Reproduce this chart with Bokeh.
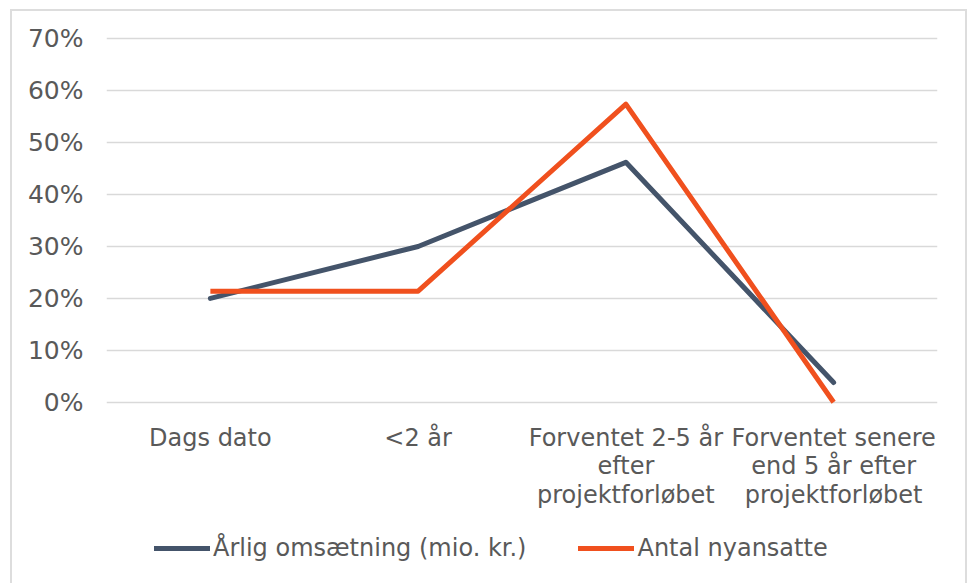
from bokeh.plotting import figure
from bokeh.layouts import column
from bokeh.models import (FactorRange, Range1d, FixedTicker, NumeralTickFormatter,
                          Legend, LegendItem)
from bokeh.embed import file_html
from bokeh.resources import INLINE

categories = ["Dags dato", "<2 år", "Forventet 2-5 år\nefter\nprojektforløbet",
              "Forventet senere\nend 5 år efter\nprojektforløbet"]
omsaetning = [0.20, 0.30, 0.462, 0.038]
nyansatte = [0.214, 0.214, 0.574, 0.0]
series_names = ["Årlig omsætning (mio. kr.)", "Antal nyansatte"]
series_colors = ["#44546A", "#F0501E"]
y_ticks = [0.0, 0.1, 0.2, 0.3, 0.4, 0.5, 0.6, 0.7]

FONT = "DejaVu Sans"
TXT = "#595959"

p = figure(width=953, height=509, output_backend="svg", toolbar_location=None,
           x_range=FactorRange(*categories, range_padding=0),
           y_range=Range1d(-0.012, 0.712))
p.min_border_left = 94
p.min_border_right = 28
p.min_border_top = 21
p.min_border_bottom = 112
p.outline_line_color = None
p.background_fill_color = "white"
p.border_fill_color = "white"

p.line(categories, omsaetning, line_color=series_colors[0], line_width=5,
       line_join="round", line_cap="round")
p.line(categories, nyansatte, line_color=series_colors[1], line_width=5,
       line_join="round", line_cap="butt")

p.yaxis.ticker = FixedTicker(ticks=y_ticks)
p.yaxis.formatter = NumeralTickFormatter(format="0%")
p.yaxis.axis_line_color = None
p.yaxis.major_tick_line_color = None
p.yaxis.minor_tick_line_color = None
p.yaxis.major_label_standoff = 17
p.yaxis.major_label_text_font = FONT
p.yaxis.major_label_text_font_size = "25px"
p.yaxis.major_label_text_color = TXT

p.xaxis.axis_line_color = None
p.xaxis.major_tick_line_color = None
p.xaxis.major_label_standoff = 9
p.xaxis.major_label_text_font = FONT
p.xaxis.major_label_text_font_size = "24px"
p.xaxis.major_label_text_color = TXT
p.xaxis.major_label_text_line_height = 1.03

p.xgrid.grid_line_color = None
p.ygrid.grid_line_color = "#D9D9D9"
p.ygrid.grid_line_width = 1.5

# legend strip below the chart (proxy lines lie outside its visible range)
p2 = figure(width=953, height=63, output_backend="svg", toolbar_location=None,
            x_range=Range1d(0, 1), y_range=Range1d(0, 1))
p2.min_border_left = 0
p2.min_border_right = 0
p2.min_border_top = 0
p2.min_border_bottom = 0
p2.axis.visible = False
p2.grid.visible = False
p2.outline_line_color = None
p2.background_fill_color = "white"
p2.border_fill_color = "white"
l1 = p2.line(x=[-2, -1], y=[-2, -1], line_color=series_colors[0], line_width=5,
             line_cap="round")
l2 = p2.line(x=[-2, -1], y=[-2, -1], line_color=series_colors[1], line_width=5,
             line_cap="round")

legend = Legend(items=[LegendItem(label=series_names[0], renderers=[l1]),
                       LegendItem(label=series_names[1], renderers=[l2])],
                orientation="horizontal", location=(48, 21))
legend.label_text_font = FONT
legend.label_text_font_size = "24px"
legend.label_text_color = TXT
legend.glyph_width = 56
legend.label_standoff = 3
legend.spacing = 52
legend.border_line_color = None
legend.background_fill_alpha = 0
legend.margin = 0
legend.padding = 0
p2.add_layout(legend, "center")

layout = column(p, p2, spacing=0,
                styles={"margin-left": "10px", "margin-top": "9px",
                        "border-left": "2px solid #DDDDDD",
                        "border-top": "2px solid #DDDDDD",
                        "border-right": "2px solid #DDDDDD"})

open("out.html", "w").write(file_html(layout, INLINE))
